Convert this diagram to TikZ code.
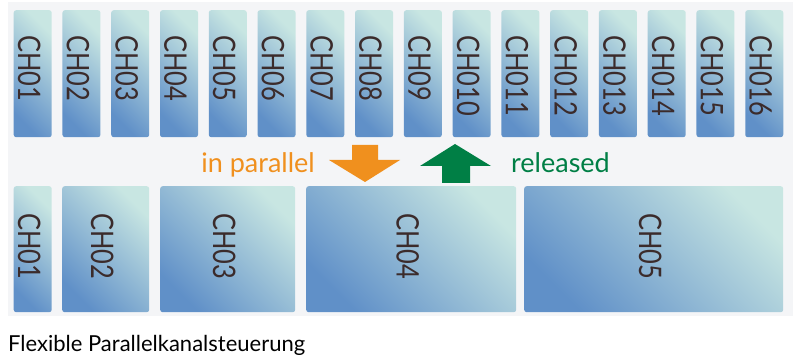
\documentclass[tikz,border=0pt]{standalone}
\usepackage{fontspec}
\setmainfont{Lato}
\newfontfamily\chfont[FakeStretch=0.82]{Lato}
\usetikzlibrary{calc}
\definecolor{panelgray}{HTML}{F4F5F7}
\definecolor{boxdark}{HTML}{6090C8}
\definecolor{boxlight}{HTML}{C8E6E2}
\definecolor{chtext}{HTML}{3B2B2B}
\definecolor{parorange}{HTML}{F0901E}
\definecolor{relgreen}{HTML}{007F45}
\tikzset{
  chbox/.style={draw=none, rounded corners=2.5pt, inner sep=0pt, anchor=north west,
    top color=boxlight, bottom color=boxdark, shading angle=-45},
  chlabel/.style={inner sep=0pt, anchor=north, text=chtext, font=\chfont\fontsize{31}{31}\selectfont},
}
\begin{document}
\begin{tikzpicture}[x=1pt, y=-1pt]
  \useasboundingbox (0,0) rectangle (793,358);
  % light panel behind the channel blocks
  \fill[panelgray] (8,2) rectangle (793,316);
  % upper row: sixteen single channels
  \foreach \i [evaluate=\i as \xx using {13.5+48.77*(\i-1)}] in {1,...,16} {
    \node[chbox, minimum width=38pt, minimum height=127pt] (t\i) at (\xx,10) {};
    \node[chlabel] (t\i l) at ([xshift=-3.5pt, yshift=-25pt]t\i.north)
      {\rotatebox{-90}{CH0\i}};
  }
  % lower row: five channels of growing width
  \foreach \n/\xa/\xb in {1/13.5/51.5, 2/62/149, 3/160/295, 4/306/516, 5/524/783} {
    \node[chbox, minimum width=\xb-\xa, minimum height=126pt] (b\n) at (\xa,186) {};
    \node[chlabel] (b\n l) at ([xshift=-3.5pt, yshift=-27pt]b\n.north)
      {\rotatebox{-90}{CH0\n}};
  }
  % direction arrows with their labels
  \fill[parorange] (352,145) -- (378,145) -- (378,160) -- (400,160) -- (365,182)
    -- (329,160) -- (352,160) -- cycle;
  \fill[relgreen] (442,183) -- (470,183) -- (470,166) -- (491,166) -- (455,144)
    -- (420,166) -- (442,166) -- cycle;
  \node[anchor=base east, inner sep=0pt, text=parorange, font=\fontsize{27}{27}\selectfont]
    (par) at (315,173) {in parallel};
  \node[anchor=base west, inner sep=0pt, text=relgreen, font=\fontsize{27}{27}\selectfont]
    (rel) at (511,173) {released};
  % caption
  \node[anchor=base west, inner sep=0pt, text=black, font=\fontsize{22}{22}\selectfont]
    (cap) at (8,351) {Flexible Parallelkanalsteuerung};
\end{tikzpicture}
\end{document}
